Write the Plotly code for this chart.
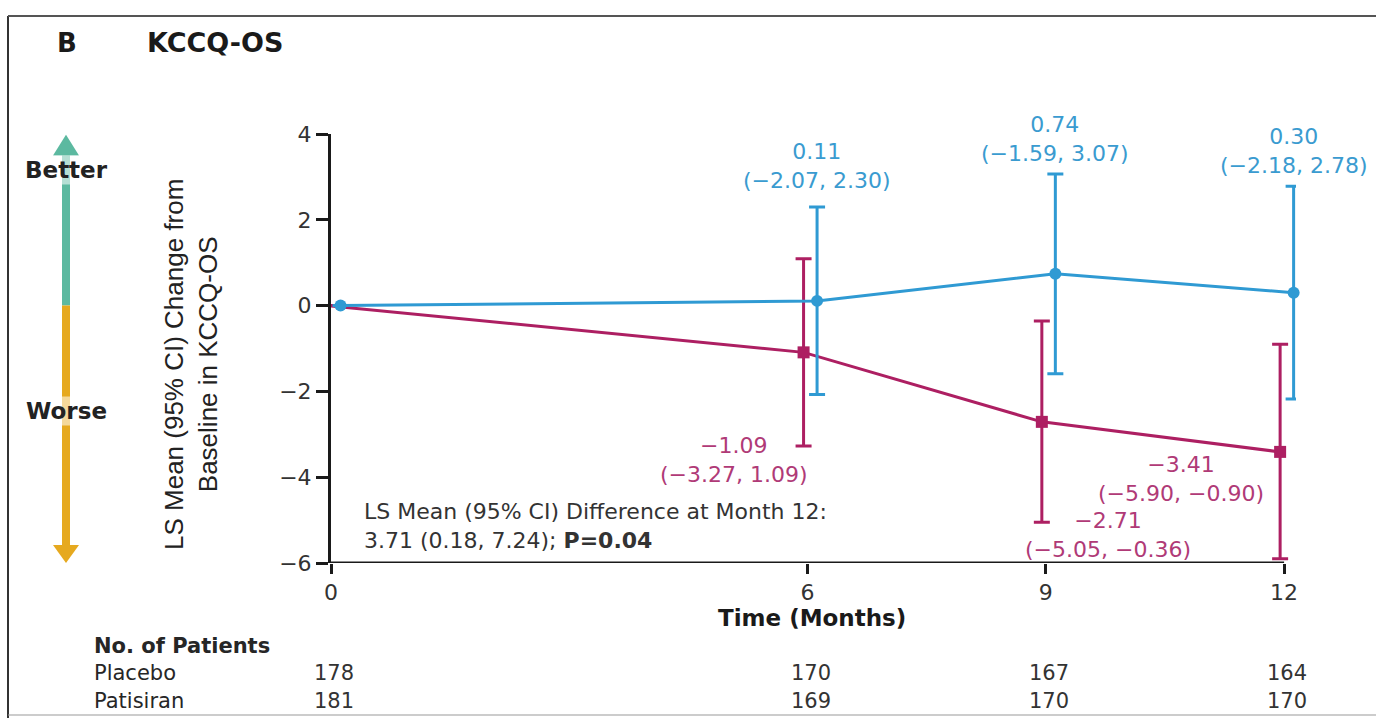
import plotly.graph_objects as go

# ---- data ----
months = [0, 6, 9, 12]
placebo_mean = [0.0, -1.09, -2.71, -3.41]
placebo_lo = [0.0, -3.27, -5.05, -5.90]
placebo_hi = [0.0, 1.09, -0.36, -0.90]
patisiran_mean = [0.0, 0.11, 0.74, 0.30]
patisiran_lo = [0.0, -2.07, -1.59, -2.18]
patisiran_hi = [0.0, 2.30, 3.07, 2.78]
n_placebo = [178, 170, 167, 164]
n_patisiran = [181, 169, 170, 170]
x_ticks = [0, 6, 9, 12]
y_ticks = [4, 2, 0, -2, -4, -6]

# ---- styles ----
BLUE = "#2f9ad3"
BLUE_TXT = "#3a9bd0"
MAG = "#ad1f62"
MAG_TXT = "#b03a77"
TEAL = "#5cb9a0"
GOLD = "#e6a91f"
FONT = "DejaVu Sans"
LBL = 22
TBL = 21
off_plac, off_pat = -0.05, 0.12

def fmt(v):
    return f"{v:.2f}".replace("-", "\u2212")

px_plac = [m + off_plac for m in months]
px_pat = [m + off_pat for m in months]

fig = go.Figure()
fig.add_trace(go.Scatter(
    x=px_plac, y=placebo_mean, mode="lines+markers", name="Placebo",
    line=dict(color=MAG, width=3), marker=dict(symbol="square", size=12, color=MAG),
    error_y=dict(type="data", symmetric=False,
                 array=[h - m for h, m in zip(placebo_hi, placebo_mean)],
                 arrayminus=[m - l for l, m in zip(placebo_lo, placebo_mean)],
                 color=MAG, thickness=3, width=8),
    cliponaxis=False, showlegend=False))
fig.add_trace(go.Scatter(
    x=px_pat, y=patisiran_mean, mode="lines+markers", name="Patisiran",
    line=dict(color=BLUE, width=3), marker=dict(symbol="circle", size=12, color=BLUE),
    error_y=dict(type="data", symmetric=False,
                 array=[h - m for h, m in zip(patisiran_hi, patisiran_mean)],
                 arrayminus=[m - l for l, m in zip(patisiran_lo, patisiran_mean)],
                 color=BLUE, thickness=3, width=8),
    cliponaxis=False, showlegend=False))

ann = []

def label(x, y, mean, lo, hi, xs, ys, anchor, color):
    ann.append(dict(x=x, y=y, xref="x", yref="y",
                    text=f"{fmt(mean)}<br>({fmt(lo)}, {fmt(hi)})", showarrow=False,
                    xanchor="center", yanchor=anchor, xshift=xs, yshift=ys,
                    font=dict(family=FONT, size=LBL, color=color)))

# patisiran labels above upper CI
for i, ys in [(1, 12), (2, 6), (3, 6)]:
    label(px_pat[i], patisiran_hi[i], patisiran_mean[i], patisiran_lo[i], patisiran_hi[i],
          0, ys, "bottom", BLUE_TXT)
# placebo labels
label(px_plac[1], placebo_lo[1], placebo_mean[1], placebo_lo[1], placebo_hi[1], -70, 15, "top", MAG_TXT)
label(px_plac[2], placebo_lo[2], placebo_mean[2], placebo_lo[2], placebo_hi[2], 66, 16, "top", MAG_TXT)
label(px_plac[3], placebo_mean[3], placebo_mean[3], placebo_lo[3], placebo_hi[3], -99, 2, "top", MAG_TXT)

ty = lambda py: (563 - py) / 429
tx = lambda px: (px - 331) / 965

# difference note
ann.append(dict(x=tx(362), y=ty(497), xref="paper", yref="paper", xanchor="left",
                yanchor="top", align="left",
                text="LS Mean (95% CI) Difference at Month 12:<br>3.71 (0.18, 7.24); <b>P=0.04</b>",
                showarrow=False, font=dict(family=FONT, size=LBL, color="#333333")))

# panel title
ann.append(dict(x=tx(55), y=ty(43), xref="paper", yref="paper", xanchor="left", yanchor="middle",
                text="<b>B</b>", showarrow=False, font=dict(family=FONT, size=26, color="#1a1a1a")))
ann.append(dict(x=tx(145), y=ty(43), xref="paper", yref="paper", xanchor="left", yanchor="middle",
                text="<b>KCCQ-OS</b>", showarrow=False, font=dict(family=FONT, size=27, color="#1a1a1a")))

# y-axis title
ann.append(dict(x=tx(157), y=ty(365), xref="paper", yref="paper",
                text="LS Mean (95% CI) Change from<br>Baseline in KCCQ-OS", textangle=-90,
                showarrow=False, font=dict(family="Liberation Sans", size=26, color="#222222")))
# x-axis title
ann.append(dict(x=6.05, y=ty(618), xref="x", yref="paper", yanchor="middle",
                text="<b>Time (Months)</b>", showarrow=False,
                font=dict(family=FONT, size=23, color="#1a1a1a")))

# Better / Worse labels
arrow_x = tx(66)
for lab, yv in [("Better", 3.15), ("Worse", -2.45)]:
    ann.append(dict(x=arrow_x, y=yv, xref="paper", yref="y", text=f"<b>{lab}</b>",
                    xanchor="center", yanchor="middle",
                    showarrow=False, bgcolor="rgba(255,255,255,0.55)", borderpad=1,
                    font=dict(family=FONT, size=23, color="#222222")))

# number of patients table (one multi-line text per column)
ann.append(dict(x=tx(92), y=ty(673), xref="paper", yref="paper", xanchor="left", yanchor="middle",
                align="left", text="<b>No. of Patients</b><br>Placebo<br>Patisiran", showarrow=False,
                font=dict(family=FONT, size=TBL, color="#262626")))
for m, a, b in zip(months, n_placebo, n_patisiran):
    ann.append(dict(x=m, y=ty(673), xref="x", yref="paper", yanchor="middle",
                    text=f" <br>{a}<br>{b}", showarrow=False, xshift=3,
                    font=dict(family=FONT, size=TBL, color="#333333")))

# shapes: arrow + axis line + borders
hw_stem = 4 / 965
hw_head = 13 / 965
shapes = [
    dict(type="rect", xref="paper", yref="y", x0=arrow_x - hw_stem, x1=arrow_x + hw_stem,
         y0=0, y1=3.5, fillcolor=TEAL, line=dict(width=0), layer="below"),
    dict(type="rect", xref="paper", yref="y", x0=arrow_x - hw_stem, x1=arrow_x + hw_stem,
         y0=-5.58, y1=0, fillcolor=GOLD, line=dict(width=0), layer="below"),
    dict(type="path", xref="paper", yref="y",
         path=f"M {arrow_x - hw_head} 3.5 L {arrow_x + hw_head} 3.5 L {arrow_x} 3.98 Z",
         fillcolor=TEAL, line=dict(width=0), layer="below"),
    dict(type="path", xref="paper", yref="y",
         path=f"M {arrow_x - hw_head} -5.58 L {arrow_x + hw_head} -5.58 L {arrow_x} -6.0 Z",
         fillcolor=GOLD, line=dict(width=0), layer="below"),
    dict(type="line", xref="x", yref="y", x0=0, x1=12, y0=-6, y1=-6,
         line=dict(color="#1a1a1a", width=3)),
    dict(type="line", xref="paper", yref="paper", x0=tx(8), x1=tx(8),
         y0=ty(16), y1=ty(718), line=dict(color="#333333", width=2)),
    dict(type="line", xref="paper", yref="paper", x0=tx(8), x1=tx(1376),
         y0=ty(16), y1=ty(16), line=dict(color="#555555", width=2)),
    dict(type="line", xref="paper", yref="paper", x0=tx(8), x1=tx(1376),
         y0=ty(715), y1=ty(715), line=dict(color="#999999", width=1)),
]

fig.update_layout(
    width=1376, height=718, margin=dict(l=331, r=80, t=134, b=155),
    paper_bgcolor="white", plot_bgcolor="white",
    annotations=ann, shapes=shapes,
    xaxis=dict(range=[0, 12.15], tickvals=x_ticks, ticktext=[str(t) for t in x_ticks],
               showline=False, showgrid=False, zeroline=False,
               ticks="outside", ticklen=10, tickwidth=3, tickcolor="#1a1a1a",
               tickfont=dict(family=FONT, size=22, color="#333333")),
    yaxis=dict(range=[-6, 4], tickvals=y_ticks,
               ticktext=[str(t).replace("-", "\u2212") for t in y_ticks],
               showline=True, linecolor="#1a1a1a", linewidth=3,
               showgrid=False, zeroline=False,
               ticks="outside", ticklen=12, tickwidth=3, tickcolor="#1a1a1a",
               tickfont=dict(family=FONT, size=22, color="#333333")),
)

fig.write_html("out.html")
